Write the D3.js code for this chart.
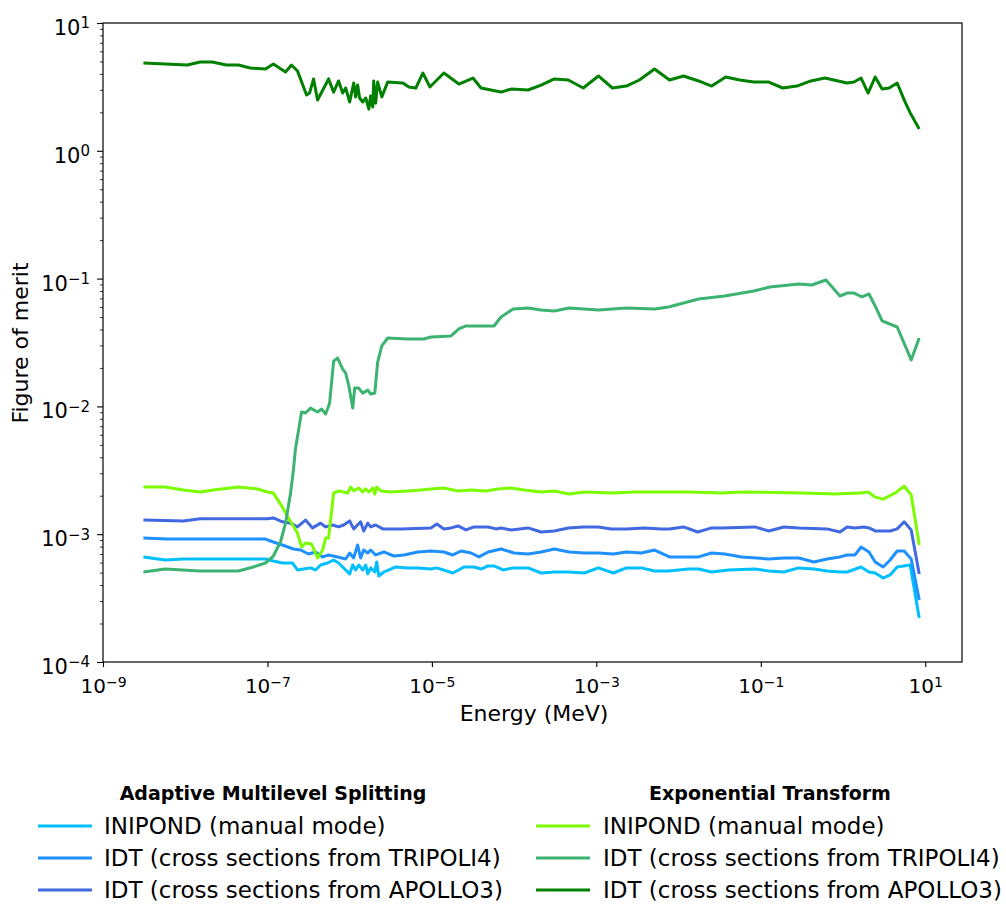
<!DOCTYPE html>
<html>
<head>
<meta charset="utf-8">
<script src="https://cdn.jsdelivr.net/npm/d3@7"></script>
<style>
  body { margin: 0; background: #fff; }
  svg { font-family: "DejaVu Sans", sans-serif; }
</style>
</head>
<body>
<svg class="mainSvg" width="1006" height="904"></svg>
<script>
// values (energy in MeV, figure of merit)
var amsIniE = [3.1e-9,5.7e-9,9.5e-9,1.52e-8,4.43e-8,9.46e-8,1.18e-7,1.52e-7,2.02e-7,2.32e-7,2.75e-7,3.34e-7,3.85e-7,4.43e-7,5.39e-7,6.38e-7,7.34e-7,8.94e-7,1.0e-6,1.09e-6,1.18e-6,1.29e-6,1.44e-6,1.57e-6,1.66e-6,1.8e-6,2.02e-6,2.13e-6,2.26e-6,2.6e-6,3.64e-6,5.1e-6,6.75e-6,9.73e-6,1.15e-5,1.8e-5,2.46e-5,3.25e-5,3.96e-5,4.82e-5,5.7e-5,7.34e-5,9.73e-5,1.48e-4,2.13e-4,3.08e-4,4.69e-4,7.14e-4,1.06e-3,1.61e-3,2.32e-3,3.54e-3,5.1e-3,7.55e-3,1.32e-2,1.75e-2,2.53e-2,4.07e-2,8.45e-2,0.125,0.191,0.29,0.443,0.638,0.918,1.12,1.66,2.07,2.46,3.08,3.74,4.56,6.56,8.45];
var amsIniV = [6.64e-4,6.28e-4,6.4e-4,6.4e-4,6.4e-4,6.4e-4,6.17e-4,5.95e-4,5.95e-4,5.25e-4,5.34e-4,5.45e-4,5.25e-4,5.74e-4,5.95e-4,6.28e-4,5.95e-4,5.25e-4,4.89e-4,5.74e-4,5.25e-4,5.74e-4,5.25e-4,5.74e-4,4.89e-4,5.45e-4,5.06e-4,6.06e-4,4.71e-4,5.06e-4,5.54e-4,5.45e-4,5.45e-4,5.34e-4,5.45e-4,4.97e-4,5.54e-4,5.54e-4,5.34e-4,5.64e-4,5.64e-4,5.25e-4,5.45e-4,5.45e-4,4.97e-4,5.06e-4,5.06e-4,4.97e-4,5.45e-4,4.97e-4,5.45e-4,5.45e-4,5.15e-4,5.15e-4,5.34e-4,5.34e-4,5.06e-4,5.25e-4,5.34e-4,5.15e-4,5.06e-4,5.45e-4,5.34e-4,5.15e-4,5.06e-4,5.06e-4,5.54e-4,5.06e-4,4.97e-4,4.54e-4,4.8e-4,5.54e-4,5.74e-4,2.21e-4];

var amsTriE = [3.1e-9,6.0e-9,1.52e-8,4.43e-8,9.46e-8,1.18e-7,1.52e-7,2.07e-7,2.53e-7,3.16e-7,3.85e-7,4.69e-7,5.54e-7,7.14e-7,8.94e-7,1.0e-6,1.12e-6,1.25e-6,1.36e-6,1.48e-6,1.66e-6,1.8e-6,2.07e-6,2.6e-6,3.44e-6,4.56e-6,6.75e-6,9.73e-6,1.4e-5,1.8e-5,2.26e-5,2.99e-5,3.74e-5,4.82e-5,6.93e-5,1.0e-4,1.48e-4,2.13e-4,3.08e-4,4.69e-4,7.14e-4,1.06e-3,1.61e-3,2.32e-3,3.54e-3,5.1e-3,7.76e-3,1.18e-2,1.75e-2,2.53e-2,3.64e-2,5.86e-2,0.125,0.191,0.29,0.443,0.638,0.918,1.12,1.4,1.66,2.07,2.46,3.08,3.74,4.56,5.54,6.75,8.45];
var amsTriV = [9.33e-4,9.16e-4,9.16e-4,9.16e-4,9.16e-4,8.69e-4,8.23e-4,7.66e-4,7.52e-4,7.0e-4,7.26e-4,6.64e-4,6.88e-4,6.64e-4,6.4e-4,7.13e-4,6.52e-4,8.23e-4,6.52e-4,7.52e-4,7.13e-4,7.52e-4,6.88e-4,7.26e-4,6.75e-4,6.88e-4,7.26e-4,7.39e-4,7.26e-4,6.88e-4,7.39e-4,7.13e-4,6.64e-4,7.26e-4,7.66e-4,7.13e-4,7.0e-4,7.26e-4,7.66e-4,7.26e-4,7.13e-4,7.13e-4,7.0e-4,7.26e-4,7.13e-4,7.52e-4,6.64e-4,6.64e-4,6.64e-4,7.13e-4,7.0e-4,6.64e-4,6.4e-4,6.52e-4,6.52e-4,6.06e-4,6.4e-4,6.64e-4,6.88e-4,6.88e-4,7.94e-4,7.26e-4,6.06e-4,5.54e-4,6.28e-4,7.39e-4,7.39e-4,6.4e-4,3.05e-4];

var amsApoE = [3.1e-9,9.5e-9,1.52e-8,4.43e-8,1.0e-7,1.18e-7,1.52e-7,1.91e-7,2.32e-7,2.9e-7,3.54e-7,4.43e-7,5.1e-7,6.2e-7,7.34e-7,8.45e-7,1.0e-6,1.12e-6,1.36e-6,1.48e-6,1.66e-6,1.8e-6,2.07e-6,2.53e-6,4.19e-6,9.73e-6,1.15e-5,1.4e-5,1.71e-5,2.07e-5,2.6e-5,3.25e-5,4.82e-5,6.03e-5,6.93e-5,9.2e-5,1.48e-4,2.13e-4,3.08e-4,4.56e-4,6.93e-4,1.06e-3,1.52e-3,2.32e-3,3.85e-3,6.2e-3,7.76e-3,1.15e-2,1.71e-2,2.53e-2,3.34e-2,8.45e-2,0.125,0.191,0.29,0.638,0.918,1.12,1.4,1.8,2.07,2.46,3.74,4.56,5.54,6.75,8.45];
var amsApoV = [1.29e-3,1.27e-3,1.32e-3,1.32e-3,1.32e-3,1.34e-3,1.25e-3,1.22e-3,1.14e-3,1.29e-3,1.12e-3,1.22e-3,1.14e-3,1.18e-3,1.14e-3,1.18e-3,1.27e-3,1.1e-3,1.25e-3,1.06e-3,1.22e-3,1.14e-3,1.18e-3,1.1e-3,1.1e-3,1.12e-3,1.2e-3,1.1e-3,1.12e-3,1.16e-3,1.08e-3,1.14e-3,1.14e-3,1.1e-3,1.12e-3,1.08e-3,1.12e-3,1.04e-3,1.06e-3,1.12e-3,1.14e-3,1.14e-3,1.1e-3,1.1e-3,1.12e-3,1.1e-3,1.1e-3,1.14e-3,1.04e-3,1.12e-3,1.12e-3,1.14e-3,1.06e-3,1.14e-3,1.12e-3,1.1e-3,1.04e-3,1.14e-3,1.12e-3,1.14e-3,1.12e-3,1.06e-3,1.06e-3,1.1e-3,1.25e-3,1.08e-3,4.89e-4];

var etIniE = [3.1e-9,5.7e-9,9.5e-9,1.52e-8,2.19e-8,4.43e-8,7.55e-8,1.0e-7,1.18e-7,1.52e-7,1.8e-7,2.32e-7,2.6e-7,2.9e-7,3.44e-7,4.07e-7,4.69e-7,5.1e-7,5.54e-7,6.38e-7,7.34e-7,9.46e-7,1.03e-6,1.12e-6,1.29e-6,1.44e-6,1.57e-6,1.71e-6,1.91e-6,2.02e-6,2.13e-6,2.39e-6,3.16e-6,5.1e-6,7.34e-6,9.73e-6,1.4e-5,2.07e-5,2.99e-5,4.56e-5,6.38e-5,9.2e-5,1.32e-4,2.13e-4,3.08e-4,4.69e-4,7.14e-4,1.52e-3,2.9e-3,5.1e-3,1.32e-2,3.34e-2,5.86e-2,0.316,0.798,1.61,2.02,2.46,3.08,4.31,5.54,6.75,8.45];
var etIniV = [2.34e-3,2.34e-3,2.22e-3,2.14e-3,2.22e-3,2.34e-3,2.26e-3,2.14e-3,2.1e-3,1.63e-3,1.34e-3,1.02e-3,7.94e-4,8.53e-4,8.38e-4,6.52e-4,7.52e-4,9.33e-4,9.33e-4,2.1e-3,2.18e-3,2.1e-3,2.34e-3,2.18e-3,2.3e-3,2.14e-3,2.26e-3,2.14e-3,2.3e-3,2.06e-3,2.34e-3,2.18e-3,2.14e-3,2.18e-3,2.22e-3,2.26e-3,2.3e-3,2.18e-3,2.22e-3,2.18e-3,2.26e-3,2.3e-3,2.22e-3,2.14e-3,2.18e-3,2.06e-3,2.14e-3,2.1e-3,2.14e-3,2.14e-3,2.14e-3,2.1e-3,2.14e-3,2.1e-3,2.06e-3,2.1e-3,2.14e-3,1.95e-3,1.88e-3,2.1e-3,2.38e-3,2.03e-3,8.23e-4];

var etTriE = [3.1e-9,5.7e-9,1.52e-8,4.43e-8,6.75e-8,9.46e-8,1.18e-7,1.44e-7,1.66e-7,1.91e-7,2.07e-7,2.19e-7,2.6e-7,2.9e-7,3.34e-7,4.07e-7,4.56e-7,5.1e-7,5.7e-7,6.38e-7,7.14e-7,8.22e-7,8.94e-7,9.73e-7,1.09e-6,1.15e-6,1.29e-6,1.44e-6,1.66e-6,1.8e-6,2.02e-6,2.19e-6,2.46e-6,2.9e-6,5.1e-6,7.98e-6,9.73e-6,1.71e-5,2.13e-5,2.6e-5,5.7e-5,6.93e-5,9.73e-5,1.48e-4,2.13e-4,3.08e-4,4.69e-4,1.06e-3,2.32e-3,5.1e-3,7.55e-3,1.75e-2,3.64e-2,8.22e-2,0.129,0.29,0.419,0.62,0.918,1.12,1.36,1.71,2.07,2.46,2.99,4.56,6.75,8.45];
var etTriV = [5.06e-4,5.34e-4,5.15e-4,5.15e-4,5.54e-4,5.95e-4,6.75e-4,8.69e-4,1.22e-3,2.1e-3,3.18e-3,4.64e-3,9.04e-3,8.87e-3,9.7e-3,9.04e-3,9.55e-3,8.72e-3,1.06e-2,2.26e-2,2.39e-2,1.96e-2,1.82e-2,1.47e-2,9.7e-3,1.39e-2,1.39e-2,1.27e-2,1.34e-2,1.25e-2,1.27e-2,2.22e-2,2.97e-2,3.43e-2,3.37e-2,3.37e-2,3.49e-2,3.56e-2,4.04e-2,4.26e-2,4.26e-2,5.01e-2,5.78e-2,5.89e-2,5.68e-2,5.57e-2,5.89e-2,5.68e-2,5.89e-2,5.78e-2,6.0e-2,6.92e-2,7.31e-2,8.0e-2,8.6e-2,9.08e-2,8.91e-2,9.75e-2,7.31e-2,7.71e-2,7.71e-2,7.18e-2,7.58e-2,6.11e-2,4.66e-2,4.18e-2,2.31e-2,3.43e-2];

var etApoE = [3.1e-9,1.06e-8,1.52e-8,2.13e-8,3.16e-8,4.43e-8,6.2e-8,9.46e-8,1.18e-7,1.66e-7,1.96e-7,2.32e-7,2.99e-7,3.25e-7,3.64e-7,4.07e-7,5.54e-7,6.38e-7,7.34e-7,8.22e-7,8.94e-7,1.0e-6,1.12e-6,1.18e-6,1.25e-6,1.32e-6,1.44e-6,1.57e-6,1.71e-6,1.8e-6,1.91e-6,1.96e-6,2.07e-6,2.19e-6,2.46e-6,2.9e-6,4.43e-6,5.25e-6,6.38e-6,7.76e-6,9.46e-6,1.4e-5,2.13e-5,3.16e-5,3.96e-5,6.93e-5,9.2e-5,1.48e-4,2.13e-4,3.08e-4,4.56e-4,6.93e-4,1.06e-3,1.57e-3,2.32e-3,3.34e-3,5.1e-3,7.76e-3,1.15e-2,1.75e-2,2.53e-2,3.74e-2,5.54e-2,8.22e-2,0.125,0.185,0.275,0.407,0.603,1.12,1.36,1.66,2.02,2.46,2.99,3.64,4.56,5.54,6.56,8.45];
var etApoV = [4.86,4.69,4.95,4.95,4.69,4.69,4.44,4.37,4.78,4.14,4.69,4.21,2.73,2.83,3.65,2.5,3.65,2.88,3.52,2.83,3.1,2.41,3.39,2.64,3.27,2.59,2.41,2.59,2.12,2.68,2.2,3.52,2.36,3.45,2.64,3.45,3.39,3.16,3.1,4.06,3.16,4.06,3.33,3.71,3.1,2.88,3.04,2.99,3.27,3.65,3.58,3.1,3.85,3.1,3.21,3.58,4.37,3.58,3.85,3.52,3.21,3.78,3.58,3.45,3.45,3.1,3.21,3.52,3.71,3.39,3.45,3.71,2.83,3.78,3.04,3.1,3.39,2.5,1.98,1.48];

var seriesNames = ["INIPOND (manual mode)", "IDT (cross sections from TRIPOLI4)", "IDT (cross sections from APOLLO3)"];
var groupTitles = ["Adaptive Multilevel Splitting", "Exponential Transform"];
var amsColors = ["#00bfff", "#1e90ff", "#4169e1"];
var etColors = ["#7cfc00", "#3cb371", "#008000"];

var xTicks = [1e-9, 1e-7, 1e-5, 1e-3, 1e-1, 1e1];
var yTicks = [1e-4, 1e-3, 1e-2, 1e-1, 1e0, 1e1];

var series = [
  {e: amsIniE, v: amsIniV, color: amsColors[0]},
  {e: amsTriE, v: amsTriV, color: amsColors[1]},
  {e: amsApoE, v: amsApoV, color: amsColors[2]},
  {e: etIniE, v: etIniV, color: etColors[0]},
  {e: etTriE, v: etTriV, color: etColors[1]},
  {e: etApoE, v: etApoV, color: etColors[2]}
];

var svg = d3.select(".mainSvg");
// plot box (window.top is reserved, so no "top" var here)
var plotL = 103, plotR = 962, plotT = 23, plotB = 662;

var x = d3.scaleLog().domain([1e-9, 28]).range([plotL, plotR]);
var y = d3.scaleLog().domain([1e-4, 1e1]).range([plotB, plotT]);

var line = d3.line()
  .x(function(d){ return x(d[0]); })
  .y(function(d){ return y(d[1]); });

svg.append("g").selectAll("path")
  .data(series)
  .enter().append("path")
  .attr("d", function(s){ return line(s.e.map(function(e, i){ return [e, s.v[i]]; })); })
  .attr("fill", "none")
  .attr("stroke", function(s){ return s.color; })
  .attr("stroke-width", 3)
  .attr("stroke-linejoin", "round");

// frame
svg.append("rect")
  .attr("x", plotL).attr("y", plotT)
  .attr("width", plotR - plotL).attr("height", plotB - plotT)
  .attr("fill", "none").attr("stroke", "#000").attr("stroke-width", 1.2);

function supLabel(sel, sizeBase, sizeSup) {
  sel.selectAll(".tick text").each(function(d){
    var t = d3.select(this);
    var ex = Math.round(Math.log10(d));
    t.text("").attr("font-size", sizeBase).attr("fill", "#000");
    t.append("tspan").text("10");
    t.append("tspan").attr("font-size", sizeSup).attr("dy", "-0.45em")
      .text(ex < 0 ? "\u2212" + (-ex) : ex);
  });
  sel.select(".domain").remove();
  sel.selectAll(".tick line").attr("stroke", "#000").attr("stroke-width", 1.1);
}

var xAxis = svg.append("g")
  .attr("transform", "translate(0," + plotB + ")")
  .call(d3.axisBottom(x).tickValues(xTicks).tickSize(5).tickPadding(5))
  .attr("font-family", null)
  .call(supLabel, 20, 14);
xAxis.selectAll(".tick text").attr("dy", "1.05em");

var yMinor = [];
for (var k = -4; k < 1; k++) {
  for (var m = 2; m < 10; m++) yMinor.push(m * Math.pow(10, k));
}

svg.append("g")
  .attr("transform", "translate(" + plotL + ",0)")
  .call(d3.axisLeft(y).tickValues(yMinor).tickSize(3).tickFormat(""))
  .call(function(g){
    g.select(".domain").remove();
    g.selectAll(".tick line").attr("stroke", "#000").attr("stroke-width", 0.8);
  });

var yAxis = svg.append("g")
  .attr("transform", "translate(" + plotL + ",0)")
  .call(d3.axisLeft(y).tickValues(yTicks).tickSize(6).tickPadding(7))
  .attr("font-family", null)
  .call(supLabel, 21, 15);
yAxis.selectAll(".tick text").attr("dy", "0.55em");

svg.append("text")
  .attr("x", 534).attr("y", 721)
  .attr("text-anchor", "middle")
  .attr("font-size", 22)
  .text("Energy (MeV)");

svg.append("text")
  .attr("transform", "translate(28,343) rotate(-90)")
  .attr("text-anchor", "middle")
  .attr("font-size", 22)
  .text("Figure of merit");

// legend
var cols = [
  {title: groupTitles[0], colors: amsColors, lineX: 38, textX: 104, titleX: 273},
  {title: groupTitles[1], colors: etColors, lineX: 536, textX: 603, titleX: 770}
];
var rowY = [826, 858, 890];

cols.forEach(function(c){
  svg.append("text")
    .attr("x", c.titleX).attr("y", 800)
    .attr("text-anchor", "middle")
    .attr("font-size", 19).attr("font-weight", "bold")
    .text(c.title);
  seriesNames.forEach(function(name, i){
    svg.append("line")
      .attr("x1", c.lineX).attr("x2", c.lineX + 54)
      .attr("y1", rowY[i]).attr("y2", rowY[i])
      .attr("stroke", c.colors[i]).attr("stroke-width", 3);
    svg.append("text")
      .attr("x", c.textX).attr("y", rowY[i] + 8)
      .attr("font-size", 23)
      .text(name);
  });
});
</script>
</body>
</html>
